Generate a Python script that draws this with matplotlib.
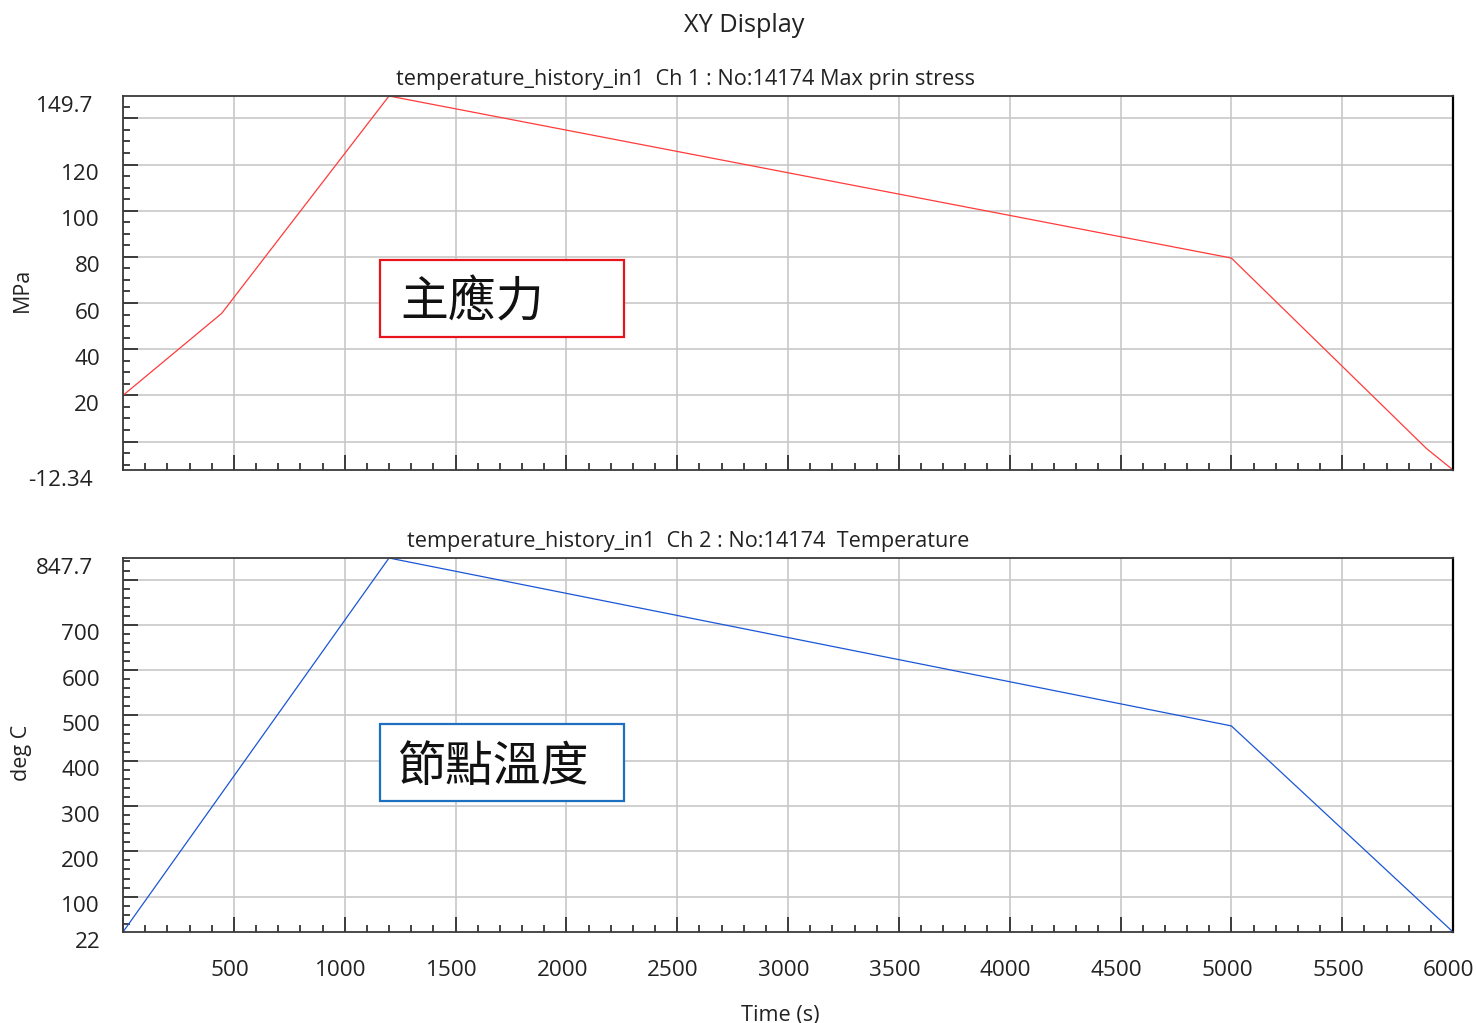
import matplotlib
matplotlib.use("Agg")
import matplotlib.pyplot as plt
from matplotlib.ticker import MultipleLocator, NullFormatter
from matplotlib.transforms import offset_copy
from matplotlib.patches import Rectangle

# ---- data -------------------------------------------------------------
stress_time = [0, 445, 1200, 5000, 5880, 6000]          # s
stress_mpa = [20.0, 55.5, 149.7, 79.5, -3.0, -12.34]     # MPa

temp_time = [0, 1200, 5000, 6000]                        # s
temp_degc = [22.0, 847.7, 477.0, 22.0]                   # deg C

stress_ylim = (-12.34, 149.7)
temp_ylim = (22.0, 847.7)
time_xlim = (0, 6000)

stress_tick_labels = [20, 40, 60, 80, 100, 120]
temp_tick_labels = [100, 200, 300, 400, 500, 600, 700]
time_tick_labels = [500, 1000, 1500, 2000, 2500, 3000, 3500,
                    4000, 4500, 5000, 5500, 6000]

title = "XY Display"
stress_title = "temperature_history_in1  Ch 1 : No:14174 Max prin stress"
temp_title = "temperature_history_in1  Ch 2 : No:14174  Temperature"
stress_note = "主應力"
temp_note = "節點溫度"

# ---- figure -----------------------------------------------------------
W, H, DPI = 1476, 1023, 100
LATIN = ["Open Sans", "DejaVu Sans"]
CJK = ["Noto Sans CJK TC", "DejaVu Sans"]
TXT = "#222222"
TICK_FS = 16.2

plt.rcParams["font.family"] = LATIN
fig = plt.figure(figsize=(W / DPI, H / DPI), dpi=DPI)


def fx(x):
    return x / W


def fy(y):
    return 1 - y / H


def make_axes(top_px, bottom_px):
    left, right = 123, 1453
    return fig.add_axes([fx(left), fy(bottom_px),
                         (right - left) / W, (bottom_px - top_px) / H])


ax1 = make_axes(96, 470)
ax2 = make_axes(558, 932)


def style(ax, ymajor, yminor):
    ax.set_xlim(*time_xlim)
    ax.xaxis.set_major_locator(MultipleLocator(500))
    ax.xaxis.set_minor_locator(MultipleLocator(100))
    ax.yaxis.set_major_locator(MultipleLocator(ymajor))
    ax.yaxis.set_minor_locator(MultipleLocator(yminor))
    ax.xaxis.set_major_formatter(NullFormatter())
    ax.yaxis.set_major_formatter(NullFormatter())
    ax.tick_params(which="both", direction="in", color="#222222",
                   width=1.2, top=False, right=False,
                   labelleft=False, labelbottom=False)
    ax.tick_params(which="major", length=10.5)
    ax.tick_params(which="minor", length=5.2)
    ax.grid(True, which="major", color="#c8c8c8", linewidth=1.2)
    ax.set_axisbelow(True)
    for side in ("left", "bottom", "top"):
        ax.spines[side].set_color("#3a3a3a")
        ax.spines[side].set_linewidth(1.3)
    ax.spines["right"].set_color("#000000")
    ax.spines["right"].set_linewidth(1.6)


style(ax1, 20, 5)
style(ax2, 100, 20)
ax1.set_ylim(*stress_ylim)
ax2.set_ylim(*temp_ylim)

ax1.plot(stress_time, stress_mpa, color="#ff3b3b", linewidth=0.9)
ax2.plot(temp_time, temp_degc, color="#1a56d6", linewidth=0.9)


# y value labels: sit slightly below their ticks, limit labels further out
def y_labels(ax, values, limits):
    inner = offset_copy(ax.get_yaxis_transform(), fig=fig, x=-23, y=-10,
                        units="dots")
    outer = offset_copy(ax.get_yaxis_transform(), fig=fig, x=-30, y=-10,
                        units="dots")
    for v in values:
        ax.text(0, v, f"{v:g}", transform=inner, ha="right", va="center",
                fontsize=TICK_FS, color=TXT)
    for v in limits:
        ax.text(0, v, f"{v:g}", transform=outer, ha="right", va="center",
                fontsize=TICK_FS, color=TXT)


y_labels(ax1, stress_tick_labels, stress_ylim)
y_labels(ax2, temp_tick_labels, [temp_ylim[1]])
ax2.text(0, temp_ylim[0], f"{temp_ylim[0]:g}",
         transform=offset_copy(ax2.get_yaxis_transform(), fig=fig,
                               x=-22, y=-10, units="dots"),
         ha="right", va="center", fontsize=TICK_FS, color=TXT)

# x value labels under the lower panel
xtr = offset_copy(ax2.get_xaxis_transform(), fig=fig, x=-4, y=-38,
                  units="dots")
for v in time_tick_labels:
    ax2.text(v, 0, f"{v}", transform=xtr, ha="center", va="center",
             fontsize=TICK_FS, color=TXT)

# titles and axis labels
fig.text(fx(744), fy(26), title, ha="center", va="center", fontsize=18.2,
         color=TXT)
fig.text(fx(686), fy(80), stress_title, ha="center", va="center",
         fontsize=15.6, color=TXT)
fig.text(fx(688), fy(542), temp_title, ha="center", va="center",
         fontsize=15.6, color=TXT)
fig.text(fx(22), fy(290), "MPa", ha="center", va="center", rotation=90,
         fontsize=15.5, color=TXT)
fig.text(fx(22), fy(753), "deg C", ha="center", va="center", rotation=90,
         fontsize=15.5, color=TXT)
fig.text(fx(780), fy(1015), "Time (s)", ha="center", va="center",
         fontsize=15.6, color=TXT)


# boxed notes inside each panel
def note(ax, top_px, bottom_px, text_px, label, edge):
    x0, x1 = (380 - 123) / 1330, (624 - 123) / 1330
    ax_top = 96 if ax is ax1 else 558
    y0 = 1 - (bottom_px - ax_top) / 374
    y1 = 1 - (top_px - ax_top) / 374
    ax.add_patch(Rectangle((x0, y0), x1 - x0, y1 - y0, transform=ax.transAxes,
                           facecolor="white", edgecolor=edge, linewidth=1.6,
                           zorder=5))
    tx = (text_px[0] - 123) / 1330
    ty = 1 - (text_px[1] - ax_top) / 374
    ax.text(tx, ty, label, transform=ax.transAxes, ha="left", va="center",
            fontsize=34.5, family=CJK, color="#111111", zorder=6)


note(ax1, 260, 337, (400, 303), stress_note, "#e8141c")
note(ax2, 724, 801, (398, 767), temp_note, "#1f6fc0")

fig.savefig("out.png", dpi=DPI, facecolor="white")
